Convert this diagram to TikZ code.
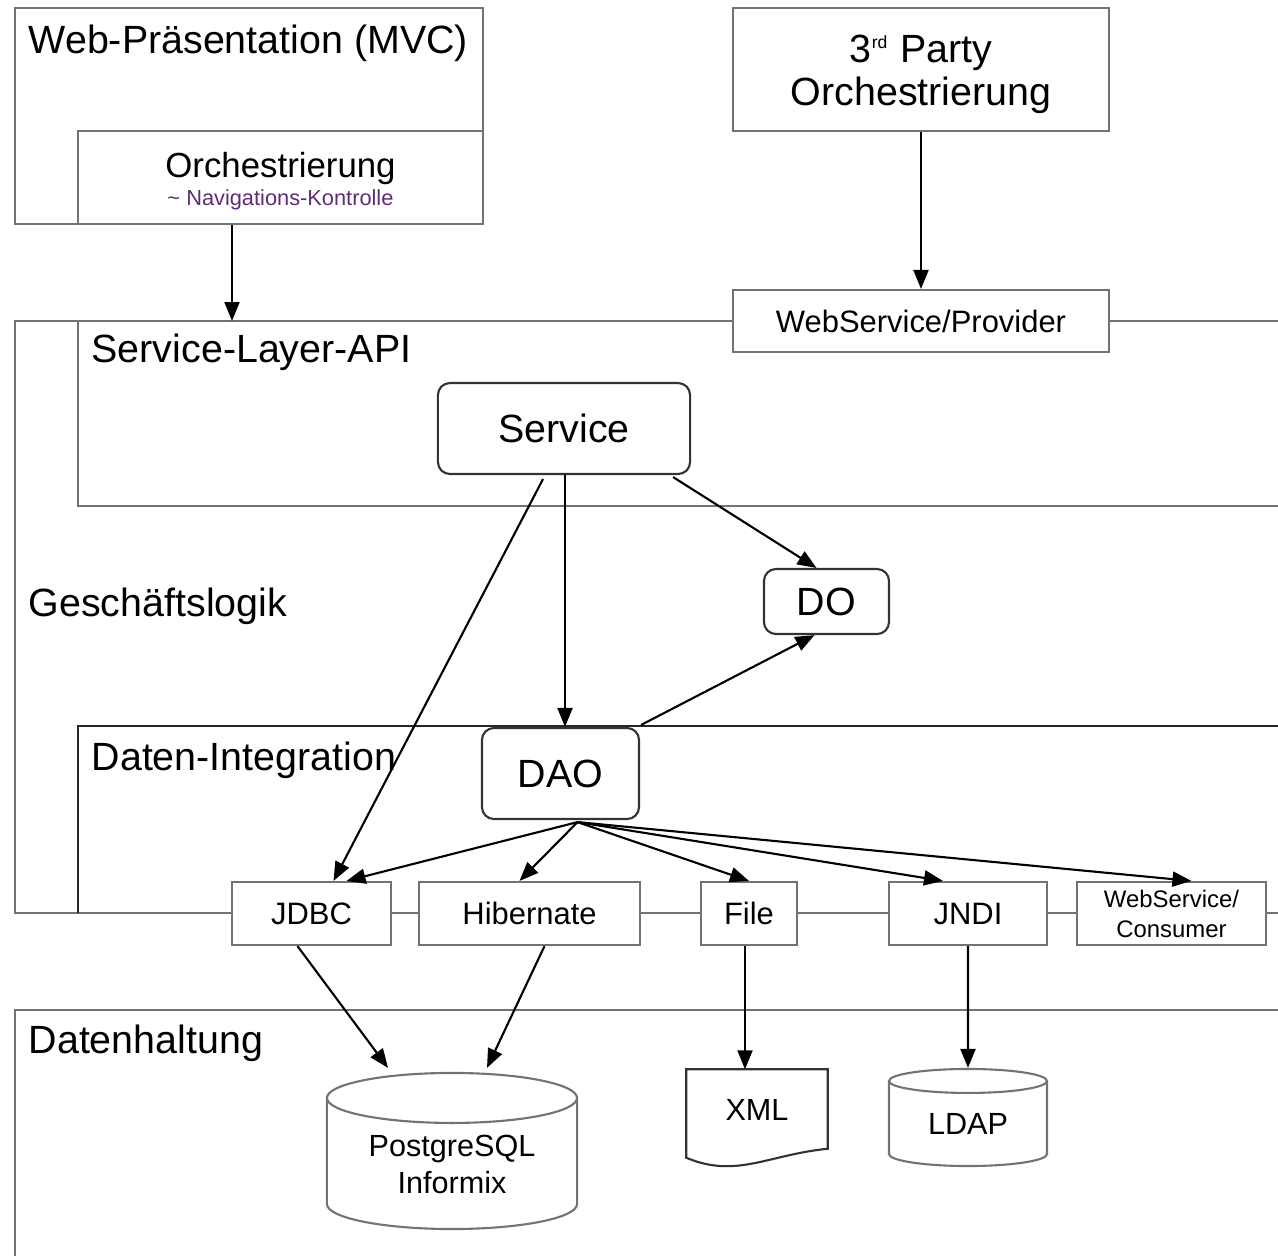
\documentclass[tikz,border=0pt]{standalone}
\usepackage{fontspec}
\setmainfont{Liberation Sans}
\usetikzlibrary{arrows.meta,shapes.geometric,calc}

\definecolor{framegray}{RGB}{115,115,115}
\definecolor{navpurple}{RGB}{95,45,115}

\tikzset{
  layer/.style={draw=framegray, line width=0.6pt},
  layerlabel/.style={inner sep=0pt, anchor=base west, font=\fontsize{11.2}{13.4}\selectfont},
  box/.style={draw=framegray, line width=0.6pt, fill=white, inner sep=0pt, align=center},
  rbox/.style={box, draw=black!80, rounded corners=0.12cm, font=\fontsize{11.2}{13.4}\selectfont},
  mbox/.style={box, font=\fontsize{8.8}{10.5}\selectfont},
  db/.style={box, cylinder, shape border rotate=90, aspect=0.3, font=\fontsize{8.7}{10.5}\selectfont},
  dep/.style={-{Triangle[length=0.19cm,width=0.15cm]}, line width=0.6pt}
}

\begin{document}
\begin{tikzpicture}[x=0.01cm,y=-0.01cm]
\useasboundingbox (0,0) rectangle (1278,1256);

% Schichten
\draw[layer] (1278,321) -- (15,321) -- (15,913) -- (1278,913);
\draw[layer] (78,321) -- (78,506) -- (1278,506);
\draw[layer, draw=black!85] (1278,726) -- (78,726) -- (78,913);
\draw[layer] (1278,1010) -- (15,1010) -- (15,1256);

\node[layerlabel] (lblapi) at (91,362) {Service-Layer-API};
\node[layerlabel] (lbllogik) at (28,616) {Geschäftslogik};
\node[layerlabel] (lbldaten) at (91,770) {Daten-Integration};
\node[layerlabel] (lblhaltung) at (28,1053) {Datenhaltung};

% Praesentation
\node[box, minimum width=4.68cm, minimum height=2.16cm] (web) at (249,116) {};
\node[layerlabel] (lblweb) at (28,53) {Web-Präsentation (MVC)};
\node[box, minimum width=4.05cm, minimum height=0.93cm, font=\fontsize{9.9}{11}\selectfont] (orch) at (280.5,177.5)
  {\rule{0pt}{0.32cm}Orchestrierung\\[-3pt]{\color{navpurple}\fontsize{6.2}{7}\selectfont\textasciitilde\ Navigations-Kontrolle}};

\node[box, minimum width=3.76cm, minimum height=1.23cm, font=\fontsize{11.2}{12.2}\selectfont] (party) at (921,69.5)
  {\rule{0pt}{0.37cm}3\smash{\textsuperscript{\fontsize{5}{5}\selectfont rd}} Party\\Orchestrierung};
\node[mbox, minimum width=3.76cm, minimum height=0.62cm] (wsprov) at (921,321) {WebService/Provider};

% Geschaeftslogik
\node[rbox, minimum width=2.52cm, minimum height=0.91cm] (service) at (564,428.5) {Service};
\node[rbox, minimum width=1.25cm, minimum height=0.65cm] (do) at (826.5,601.5) {DO};
\node[rbox, minimum width=1.57cm, minimum height=0.91cm] (dao) at (560.5,773.5) {DAO};

% Zugriff
\node[mbox, minimum width=1.59cm, minimum height=0.63cm] (jdbc) at (311.5,913.5) {JDBC};
\node[mbox, minimum width=2.21cm, minimum height=0.63cm] (hibernate) at (529.5,913.5) {Hibernate};
\node[mbox, minimum width=0.96cm, minimum height=0.63cm] (file) at (749,913.5) {File};
\node[mbox, minimum width=1.58cm, minimum height=0.63cm] (jndi) at (968,913.5) {JNDI};
\node[mbox, minimum width=1.89cm, minimum height=0.63cm, font=\fontsize{6.8}{8.5}\selectfont] (wscons) at (1171.5,913.5)
  {WebService/\\Consumer};

% Datenhaltung
\node[db, minimum width=2.5cm, minimum height=1.56cm] (pg) at (452,1164) {PostgreSQL\\Informix};
\node[db, minimum width=1.58cm, minimum height=0.97cm] (ldap) at (968,1124) {LDAP};
\node[inner sep=0pt, minimum width=1.4cm, minimum height=0.8cm, font=\fontsize{8.7}{10.5}\selectfont] (xml) at (757,1110) {XML};
\draw[draw=black!80, line width=0.6pt] (xml.north west) -- (xml.north east) -- ($(xml.south east)+(0,-2)$)
  .. controls ($(xml.south east)+(-60,4)$) and ($(xml.south west)+(50,28)$) .. ($(xml.south west)+(0,7)$) -- cycle;

% Pfeile
\coordinate (apiin) at (232,321);
\coordinate (daoout) at ($(dao.south)+(17,2)$);
\draw[dep] (orch.south -| apiin) -- (apiin);
\draw[dep] (party) -- (wsprov);
\draw[dep] ($(service.south)+(-21,4)$) -- ($(jdbc.north)+(22,0)$);
\draw[dep] ($(service.south)+(1,0)$) -- ($(dao.north)+(4.5,0)$);
\draw[dep] ($(service.south east)+(-18,2)$) -- ($(do.north)+(-10,0)$);
\draw[dep] ($(dao.north east)+(1,-2)$) -- ($(do.south)+(-12,0)$);
\draw[dep] (daoout) -- ($(jdbc.north)+(35,0)$);
\draw[dep] (daoout) -- ($(hibernate.north)+(-10,0)$);
\draw[dep] (daoout) -- (file.north);
\draw[dep] (daoout) -- ($(jndi.north)+(-25,0)$);
\draw[dep] (daoout) -- ($(wscons.north)+(20,0)$);
\draw[dep] ($(jdbc.south)+(-14,0)$) -- ($(pg.north)+(-64,-4)$);
\draw[dep] ($(hibernate.south)+(15,0)$) -- ($(pg.north)+(35,-4)$);
\draw[dep] ($(file.south)+(-4,0)$) -- ($(file.south |- xml.north)+(-4,0)$);
\draw[dep] (jndi.south) -- (ldap.north);
\end{tikzpicture}
\end{document}
